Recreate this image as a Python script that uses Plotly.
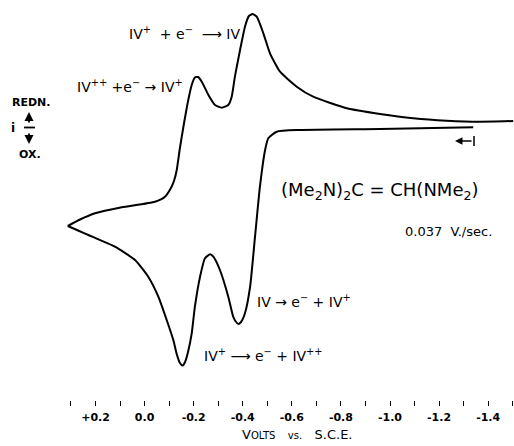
import plotly.graph_objects as go

# Anodic (oxidation) sweep: starts at -1.34 V, scans positive to vertex
ox_volts = [-1.339, -0.959, -0.633, -0.538, -0.504, -0.491, -0.470, -0.450, -0.430,
            -0.409, -0.393, -0.382, -0.370, -0.361, -0.341, -0.307, -0.280, -0.267,
            -0.246, -0.226, -0.205, -0.192, -0.177, -0.165, -0.155, -0.144, -0.132,
            -0.117, -0.090, -0.056, -0.015, 0.039, 0.121, 0.229, 0.271, 0.313]
ox_current = [0.07, -0.10, -0.20, -0.37, -1.03, -2.20, -5.87, -10.87, -15.87,
              -18.53, -19.40, -19.60, -19.30, -18.87, -16.87, -14.20, -12.87, -12.63,
              -13.03, -14.87, -17.87, -20.53, -22.40, -23.40, -23.75, -23.50, -22.70,
              -21.20, -19.20, -16.87, -14.87, -13.20, -11.87, -10.70, -10.25, -9.80]

# Cathodic (reduction) sweep: from vertex back to -1.5 V
red_volts = [0.313, 0.263, 0.202, 0.093, -0.042, -0.083, -0.110, -0.121, -0.131, -0.144,
             -0.158, -0.178, -0.192, -0.205, -0.218, -0.233, -0.260, -0.287, -0.314,
             -0.341, -0.355, -0.368, -0.389, -0.409, -0.425, -0.440, -0.457, -0.484,
             -0.511, -0.552, -0.620, -0.687, -0.824, -0.959, -1.095, -1.231, -1.367, -1.502]
red_current = [-9.80, -9.15, -8.53, -7.93, -7.37, -6.87, -5.87, -5.20, -4.20, -2.00,
               0.10, 2.80, 4.30, 5.05, 5.10, 4.63, 3.30, 2.30, 2.03,
               2.30, 3.13, 5.13, 7.80, 10.13, 11.20, 11.40, 11.13, 9.47,
               7.47, 5.63, 4.13, 3.13, 1.97, 1.40, 0.97, 0.73, 0.63, 0.70]

tick_vals = [0.2, 0.0, -0.2, -0.4, -0.6, -0.8, -1.0, -1.2, -1.4]
tick_text = ["+0.2", "0.0", "-0.2", "-0.4", "-0.6", "-0.8", "-1.0", "-1.2", "-1.4"]
minor_vals = [0.3, 0.1, -0.1, -0.3, -0.5, -0.7, -0.9, -1.1, -1.3, -1.5]

W, H = 514, 446
PLOT_H = 400
X_RANGE = [0.5892, -1.5053]
Y_RANGE = [-27.2, 12.8]
FONT = "DejaVu Sans"


def px(x):
    return x / W


def py(y):
    return (PLOT_H - y) / PLOT_H


fig = go.Figure()
for xs, ys in [(ox_volts, ox_current), (red_volts, red_current)]:
    fig.add_trace(go.Scatter(x=xs, y=ys, mode="lines",
                             line=dict(color="black", width=2, shape="spline", smoothing=0.5),
                             showlegend=False, hoverinfo="skip"))

ann = []


def text(x, y, s, size=12):
    ann.append(dict(x=px(x), y=py(y), xref="paper", yref="paper", text=s,
                    showarrow=False, font=dict(family=FONT, size=size, color="black"),
                    xanchor="center", yanchor="middle"))


text(184, 33, "IV<sup>+</sup>  + e<sup>−</sup>  ⟶ IV", 14)
text(130, 86, "IV<sup>++</sup> +e<sup>−</sup> → IV<sup>+</sup>", 14)
text(380, 191, "(Me<sub>2</sub>N)<sub>2</sub>C = CH(NMe<sub>2</sub>)", 18)
text(448, 231, "0.037  V./sec.", 13)
text(304, 301, "IV → e<sup>−</sup> + IV<sup>+</sup>", 14)
text(263, 355, "IV<sup>+</sup> ⟶ e<sup>−</sup> + IV<sup>++</sup>", 14)
text(31, 102, "<b>REDN.</b>", 11)
text(13, 128, "<b>i</b>", 12)
text(30, 154, "<b>OX.</b>", 11)
text(297, 434, "V<span style='font-size:10px'>OLTS</span>   <span style='font-size:10px'>vs.</span>   S.C.E.", 13)

# i up/down arrows
ann.append(dict(x=px(29), y=py(112), xref="paper", yref="paper", ax=0, ay=12,
                showarrow=True, arrowhead=2, arrowsize=1, arrowwidth=1.8,
                arrowcolor="black", text=""))
ann.append(dict(x=px(29), y=py(144), xref="paper", yref="paper", ax=0, ay=-12,
                showarrow=True, arrowhead=2, arrowsize=1, arrowwidth=1.8,
                arrowcolor="black", text=""))
# scan direction arrow
ann.append(dict(x=px(455), y=py(141), xref="paper", yref="paper", ax=18, ay=0,
                showarrow=True, arrowhead=2, arrowsize=1, arrowwidth=1.5,
                arrowcolor="black", text=""))

shapes = [
    dict(type="line", xref="paper", yref="paper", x0=px(24), x1=px(35), y0=py(127.5), y1=py(127.5),
         line=dict(color="black", width=1.8)),
    dict(type="line", xref="paper", yref="paper", x0=px(474), x1=px(474), y0=py(136), y1=py(146),
         line=dict(color="black", width=1.5)),
]

fig.update_layout(
    width=W, height=H,
    margin=dict(l=0, r=0, t=0, b=H - PLOT_H),
    paper_bgcolor="white", plot_bgcolor="white",
    annotations=ann, shapes=shapes,
    xaxis=dict(range=X_RANGE, showgrid=False, zeroline=False, showline=False,
               tickmode="array", tickvals=tick_vals, ticktext=tick_text,
               ticks="outside", ticklen=5, tickwidth=1.2, tickcolor="black",
               ticklabelstandoff=2,
               tickfont=dict(family=FONT, size=11, color="black", weight="bold"),
               minor=dict(tickmode="array", tickvals=minor_vals,
                          ticks="outside", ticklen=5, tickwidth=1.2, tickcolor="black")),
    yaxis=dict(range=Y_RANGE, visible=False),
)

fig.write_html("out.html")
